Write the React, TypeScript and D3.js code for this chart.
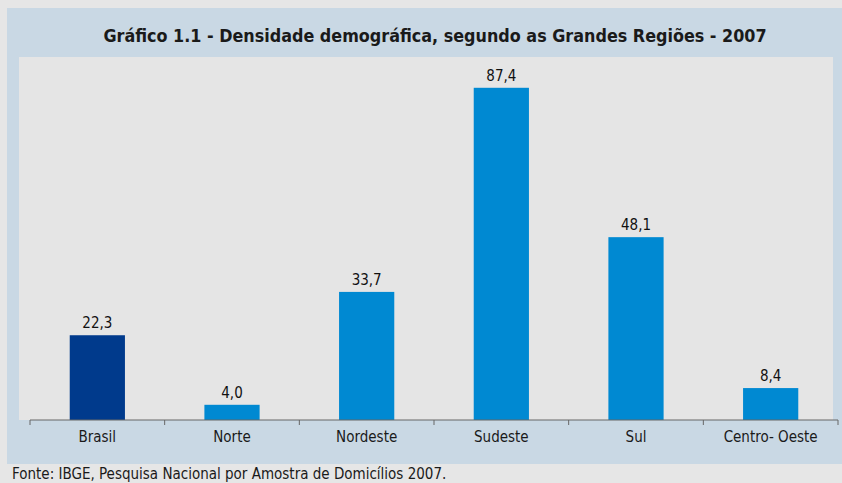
import * as d3 from "d3";

const categories = ["Brasil", "Norte", "Nordeste", "Sudeste", "Sul", "Centro- Oeste"];
const values = [22.3, 4.0, 33.7, 87.4, 48.1, 8.4];
const highlight = ["Brasil"];

const title = "Gráfico 1.1 - Densidade demográfica, segundo as Grandes Regiões - 2007";
const source = "Fonte: IBGE, Pesquisa Nacional por Amostra de Domicílios 2007.";

const W = 842;
const H = 483;
const font = "'Liberation Sans Narrow', 'DejaVu Sans Condensed', Arial, sans-serif";

export default function App() {
	const plot = { left: 19, right: 833, top: 57, bottom: 420 };
	const axisLeft = 30;
	const axisRight = 838;

	const x = d3
		.scaleBand<string>()
		.domain(categories)
		.range([axisLeft, axisRight])
		.paddingInner(0.59)
		.paddingOuter(0.295);

	const y = d3.scaleLinear().domain([0, 95.5]).range([plot.bottom, plot.top]);

	const step = x.step();
	const tickXs = d3.range(categories.length + 1).map((i) => axisLeft + i * step);
	const fmt = (v: number) => d3.format(".1f")(v).replace(".", ",");

	return (
		<div style={{ position: "fixed", left: 0, top: 0, width: W, height: H }}>
			<svg width={W} height={H} style={{ display: "block" }}>
				<rect x={0} y={0} width={W} height={H} fill="#e6e6e6" />
				{/* panel */}
				<rect x={7} y={8} width={W - 7} height={456} fill="#c9d8e4" />
				{/* plot area */}
				<rect
					x={plot.left}
					y={plot.top}
					width={plot.right - plot.left}
					height={plot.bottom - plot.top}
					fill="#e5e5e5"
				/>
				<text
					x={435}
					y={42}
					textAnchor="middle"
					fontFamily={font}
					fontWeight="bold"
					fontSize={17.8}
					fill="#1a1a1a"
				>
					{title}
				</text>

				{categories.map((c, i) => {
					const bx = x(c) as number;
					const v = values[i];
					return (
						<g key={c}>
							<rect
								x={bx}
								y={y(v)}
								width={x.bandwidth()}
								height={y(0) - y(v)}
								fill={highlight.includes(c) ? "#003a8c" : "#0089d2"}
							/>
							<text
								x={bx + x.bandwidth() / 2}
								y={y(v) - 7}
								textAnchor="middle"
								fontFamily={font}
								fontSize={15}
								fill="#111"
							>
								{fmt(v)}
							</text>
							<text
								x={bx + x.bandwidth() / 2}
								y={442}
								textAnchor="middle"
								fontFamily={font}
								fontSize={15}
								fill="#1a1a1a"
							>
								{c}
							</text>
						</g>
					);
				})}

				{/* axis */}
				<line
					x1={axisLeft}
					x2={axisRight}
					y1={y(0)}
					y2={y(0)}
					stroke="#666"
					strokeWidth={1}
				/>
				{tickXs.map((tx) => (
					<line
						key={tx}
						x1={tx}
						x2={tx}
						y1={y(0)}
						y2={y(0) + 5}
						stroke="#666"
						strokeWidth={1}
					/>
				))}

				<text x={12} y={479} fontFamily={font} fontSize={15} fill="#1a1a1a">
					{source}
				</text>
			</svg>
		</div>
	);
}
